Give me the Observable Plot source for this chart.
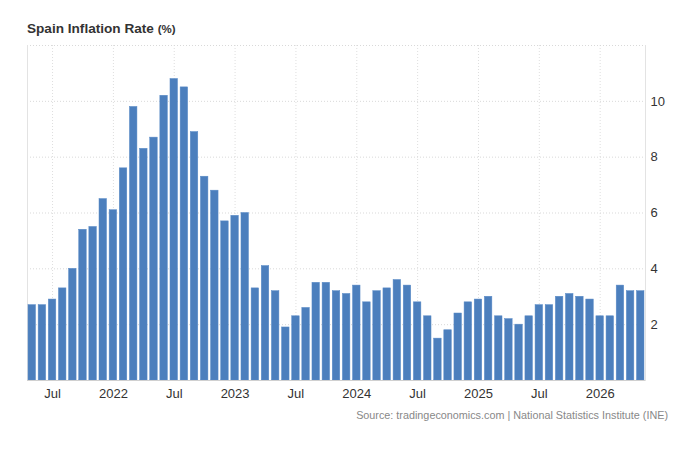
<!DOCTYPE html>
<html>
<head>
<meta charset="utf-8">
<script src="https://cdn.jsdelivr.net/npm/d3@7"></script>
<script src="https://cdn.jsdelivr.net/npm/@observablehq/plot@0.6"></script>
<style>
  html, body { margin: 0; padding: 0; background: #fff; }
  body { position: relative; width: 680px; height: 465px; font-family: "Liberation Sans", Arial, sans-serif; }
  #title { position: absolute; left: 27px; top: 21px; font-weight: bold; font-size: 13.6px; color: #333; white-space: nowrap; }
  #title .unit { font-size: 11.5px; }
  #chart { position: absolute; left: 0; top: 40px; }
  #source { position: absolute; right: 12px; top: 409px; font-size: 10.8px; color: #888; white-space: nowrap; }
</style>
</head>
<body>
<div id="title">Spain Inflation Rate <span class="unit">(%)</span></div>
<div id="chart"></div>
<div id="source">Source: tradingeconomics.com | National Statistics Institute (INE)</div>
<script>
const months = [
  "2021-05","2021-06","2021-07","2021-08","2021-09","2021-10","2021-11","2021-12",
  "2022-01","2022-02","2022-03","2022-04","2022-05","2022-06","2022-07","2022-08","2022-09","2022-10","2022-11","2022-12",
  "2023-01","2023-02","2023-03","2023-04","2023-05","2023-06","2023-07","2023-08","2023-09","2023-10","2023-11","2023-12",
  "2024-01","2024-02","2024-03","2024-04","2024-05","2024-06","2024-07","2024-08","2024-09","2024-10","2024-11","2024-12",
  "2025-01","2025-02","2025-03","2025-04","2025-05","2025-06","2025-07","2025-08","2025-09","2025-10","2025-11","2025-12",
  "2026-01","2026-02","2026-03","2026-04","2026-05"
];
const inflation = [
  2.7, 2.7, 2.9, 3.3, 4.0, 5.4, 5.5, 6.5,
  6.1, 7.6, 9.8, 8.3, 8.7, 10.2, 10.8, 10.5, 8.9, 7.3, 6.8, 5.7,
  5.9, 6.0, 3.3, 4.1, 3.2, 1.9, 2.3, 2.6, 3.5, 3.5, 3.2, 3.1,
  3.4, 2.8, 3.2, 3.3, 3.6, 3.4, 2.8, 2.3, 1.5, 1.8, 2.4, 2.8,
  2.9, 3.0, 2.3, 2.2, 2.0, 2.3, 2.7, 2.7, 3.0, 3.1, 3.0, 2.9,
  2.3, 2.3, 3.4, 3.2, 3.2
];
const xTicks = ["2021-07","2022-01","2022-07","2023-01","2023-07","2024-01","2024-07","2025-01","2025-07","2026-01"];
const xTickLabels = ["Jul","2022","Jul","2023","Jul","2024","Jul","2025","Jul","2026"];
const yTicks = [2, 4, 6, 8, 10];
const yMax = 12;

const data = months.map((m, i) => ({month: m, value: inflation[i]}));
const labelOf = new Map(xTicks.map((t, i) => [t, xTickLabels[i]]));

const chart = Plot.plot({
  width: 680,
  height: 365,
  marginTop: 5,
  marginBottom: 25,
  marginLeft: 27,
  marginRight: 35,
  style: {fontFamily: "Liberation Sans, Arial, sans-serif", background: "#fff"},
  x: {type: "band", domain: months, paddingInner: 0.26, paddingOuter: 0.1, round: false},
  y: {domain: [0, yMax]},
  marks: [
    Plot.ruleX(xTicks, {stroke: "#dedede", strokeDasharray: "1,2"}),
    Plot.ruleY(yTicks, {stroke: "#d9d9d9", strokeDasharray: "1,2"}),
    Plot.ruleY([yMax], {stroke: "#d9d9d9", strokeDasharray: "1,2"}),
    Plot.frame({anchor: "left", stroke: "#e3e3e3"}),
    Plot.frame({anchor: "right", stroke: "#e3e3e3"}),
    Plot.barY(data, {x: "month", y: "value", fill: "#4c7fbd", stroke: "#5a8bc7", strokeWidth: 0.5}),
    Plot.ruleY([0], {stroke: "#d0d0d0"}),
    Plot.axisX({ticks: xTicks, tickFormat: d => labelOf.get(d), tickSize: 0, tickPadding: 8, fontSize: 13, fill: "#333", label: null}),
    Plot.axisY({ticks: yTicks, anchor: "right", tickSize: 0, tickPadding: 5, fontSize: 13, fill: "#333", label: null})
  ]
});
document.getElementById("chart").appendChild(chart);
</script>
</body>
</html>
